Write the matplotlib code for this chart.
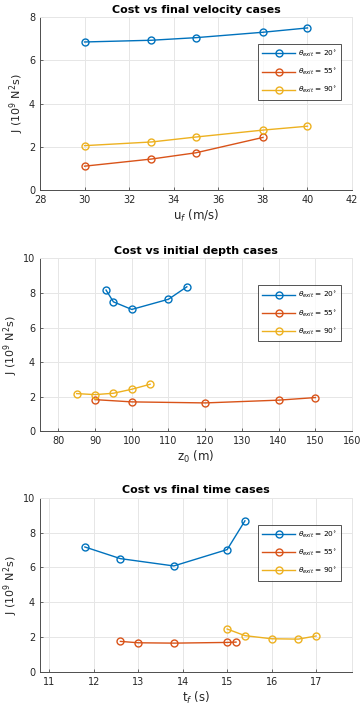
import matplotlib
matplotlib.use('Agg')
import matplotlib.pyplot as plt

# MATLAB default line colours
colors = ['#0072BD', '#D95319', '#EDB120']
labels = [r'$\theta_{exit}$ = 20$^{\circ}$',
          r'$\theta_{exit}$ = 55$^{\circ}$',
          r'$\theta_{exit}$ = 90$^{\circ}$']

# final velocity cases
uf_20 = [30, 33, 35, 38, 40]
J_uf_20 = [6.85, 6.93, 7.05, 7.30, 7.50]
uf_55 = [30, 33, 35, 38]
J_uf_55 = [1.10, 1.43, 1.72, 2.43]
uf_90 = [30, 33, 35, 38, 40]
J_uf_90 = [2.05, 2.22, 2.45, 2.77, 2.95]

# initial depth cases
z0_20 = [93, 95, 100, 110, 115]
J_z0_20 = [8.17, 7.49, 7.05, 7.64, 8.36]
z0_55 = [90, 100, 120, 140, 150]
J_z0_55 = [1.83, 1.70, 1.64, 1.80, 1.95]
z0_90 = [85, 90, 95, 100, 105]
J_z0_90 = [2.18, 2.12, 2.20, 2.43, 2.72]

# final time cases
tf_20 = [11.8, 12.6, 13.8, 15.0, 15.4]
J_tf_20 = [7.17, 6.50, 6.08, 7.02, 8.67]
tf_55 = [12.6, 13.0, 13.8, 15.0, 15.2]
J_tf_55 = [1.75, 1.67, 1.65, 1.69, 1.71]
tf_90 = [15.0, 15.4, 16.0, 16.6, 17.0]
J_tf_90 = [2.46, 2.08, 1.90, 1.88, 2.06]

plt.rcParams['font.family'] = ['DejaVu Sans']
plt.rcParams['mathtext.fontset'] = 'dejavusans'

fig = plt.figure(figsize=(3.6, 7.14), dpi=100)
pos = [[0.111, 0.734, 0.867, 0.242],
       [0.111, 0.396, 0.867, 0.242],
       [0.111, 0.059, 0.867, 0.244]]


def style_axes(ax, title, xlabel, xlim, ylim, xticks, yticks):
    ax.set_xlim(xlim)
    ax.set_ylim(ylim)
    ax.set_xticks(xticks)
    ax.set_yticks(yticks)
    ax.grid(True, color='#e6e6e6', linewidth=0.7)
    ax.set_axisbelow(True)
    for s in ['left', 'bottom']:
        ax.spines[s].set_color('#4d4d4d')
        ax.spines[s].set_linewidth(0.7)
    for s in ['top', 'right']:
        ax.spines[s].set_color('#e6e6e6')
        ax.spines[s].set_linewidth(0.7)
    ax.tick_params(direction='in', length=2.5, width=0.6, colors='#4d4d4d',
                   labelsize=7, labelcolor='#262626', top=False, right=False)
    ax.set_title(title, fontsize=8, fontweight='bold', pad=3)
    ax.set_xlabel(xlabel, fontsize=8.5, color='#262626', labelpad=2)
    ax.set_ylabel(r'J (10$^9$ N$^2$s)', fontsize=8, color='#262626', labelpad=2)
    leg = ax.legend(loc='upper right', bbox_to_anchor=(0.965, 0.845),
                    fontsize=5.3, frameon=True, fancybox=False,
                    handlelength=4.4, borderpad=0.6, labelspacing=1.0,
                    handletextpad=0.4, borderaxespad=0)
    leg.get_frame().set_edgecolor('#262626')
    leg.get_frame().set_linewidth(0.7)


data = [
    ([uf_20, uf_55, uf_90], [J_uf_20, J_uf_55, J_uf_90]),
    ([z0_20, z0_55, z0_90], [J_z0_20, J_z0_55, J_z0_90]),
    ([tf_20, tf_55, tf_90], [J_tf_20, J_tf_55, J_tf_90]),
]
titles = ['Cost vs final velocity cases', 'Cost vs initial depth cases',
          'Cost vs final time cases']
xlabels = [r'u$_f$ (m/s)', r'z$_0$ (m)', r't$_f$ (s)']
xlims = [(28, 42), (75, 160), (10.79, 17.81)]
ylims = [(0, 8), (0, 10), (0, 10)]
xticks = [range(28, 43, 2), range(80, 161, 10), range(11, 18)]
yticks = [range(0, 9, 2), range(0, 11, 2), range(0, 11, 2)]

for i in range(3):
    ax = fig.add_axes(pos[i])
    xs, ys = data[i]
    for x, y, c, lab in zip(xs, ys, colors, labels):
        ax.plot(x, y, '-o', color=c, linewidth=1.0, markersize=5,
                markerfacecolor='none', markeredgewidth=1.0, label=lab)
    style_axes(ax, titles[i], xlabels[i], xlims[i], ylims[i],
               xticks[i], yticks[i])

plt.savefig('out.png', dpi=100)
